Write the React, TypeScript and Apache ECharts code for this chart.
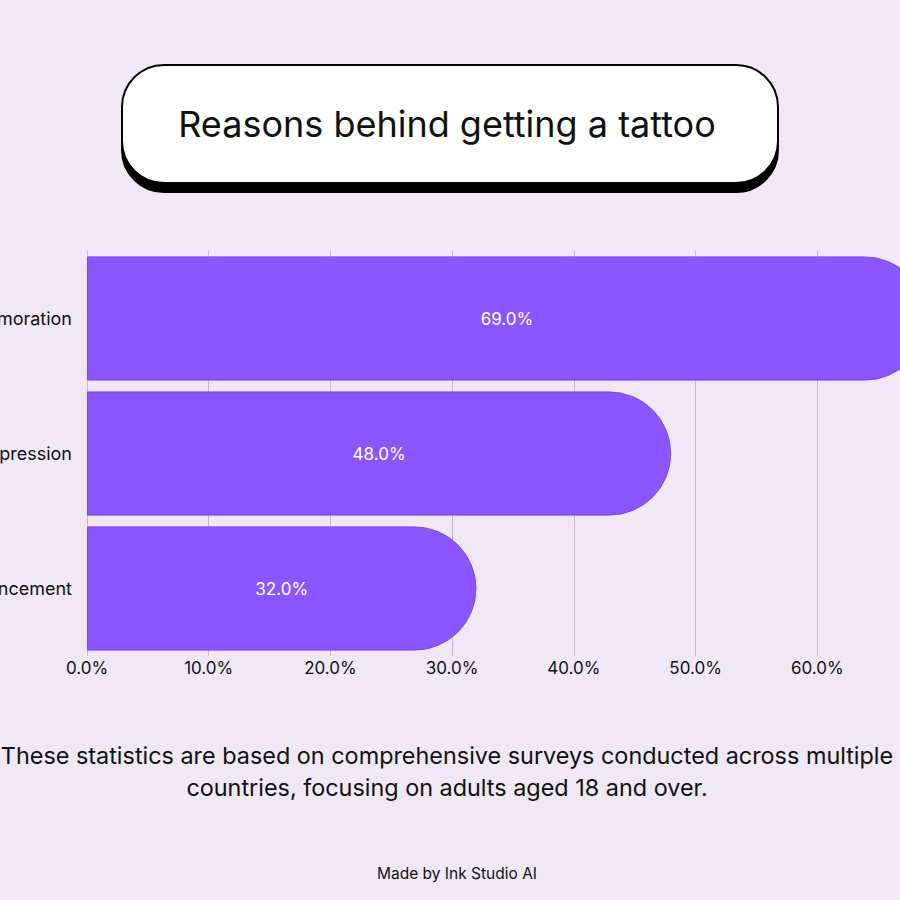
import React, { useEffect, useRef } from "react";
import * as echarts from "echarts";

const categories = ["Commemoration", "Self-expression", "Aesthetic enhancement"];
const values = [69, 48, 32];
const xTicks = [0, 10, 20, 30, 40, 50, 60, 70];

const titleText = "Reasons behind getting a tattoo";
const noteLines = [
  "These statistics are based on comprehensive surveys conducted across multiple",
  "countries, focusing on adults aged 18 and over.",
];
const creditText = "Made by Ink Studio AI";

export default function App() {
  const ref = useRef<HTMLDivElement>(null);
  useEffect(() => {
    document.body.style.margin = "0";
    const chart = echarts.init(ref.current!, null, { renderer: "svg" });
    const font = "Inter, 'Noto Sans', sans-serif";
    chart.setOption({
      animation: false,
      backgroundColor: "#f0e8f5",
      textStyle: { fontFamily: font },
      grid: {
        left: 87,
        right: -39,
        top: 251,
        bottom: 244,
        containLabel: false,
        outerBoundsMode: "none",
      },
      xAxis: {
        type: "value",
        min: xTicks[0],
        max: xTicks[xTicks.length - 1],
        interval: 10,
        axisLine: { show: false },
        axisTick: { show: false },
        splitLine: { show: true, lineStyle: { color: "#c3bac9", width: 1 } },
        axisLabel: {
          color: "#111",
          fontSize: 17,
          margin: 3,
          fontFamily: font,
          formatter: (v: number) => v.toFixed(1) + "%",
        },
      },
      yAxis: {
        type: "category",
        data: categories,
        inverse: true,
        axisLine: { show: false },
        axisTick: { show: false },
        axisLabel: { color: "#111", fontSize: 18, margin: 15, fontFamily: font },
      },
      series: [
        {
          type: "bar",
          data: values,
          barCategoryGap: "8%",
          itemStyle: {
            color: "#8b55ff",
            borderColor: "#7b48e8",
            borderWidth: 1,
            borderRadius: [0, 62, 62, 0],
          },
          label: {
            show: true,
            position: "inside",
            color: "#fff",
            fontSize: 17,
            fontFamily: font,
            formatter: (p: any) => Number(p.value).toFixed(1) + "%",
          },
        },
      ],
      graphic: [
        {
          type: "rect",
          shape: { x: 122, y: 74, width: 656, height: 118, r: 42 },
          style: { fill: "#000", stroke: "#000", lineWidth: 2 },
          z: 10,
        },
        {
          type: "rect",
          shape: { x: 122, y: 65, width: 656, height: 118, r: 42 },
          style: { fill: "#fff", stroke: "#000", lineWidth: 2 },
          z: 11,
        },
        {
          type: "text",
          x: 447,
          y: 124,
          z: 12,
          style: {
            text: titleText,
            fill: "#111",
            font: `36px ${font}`,
            align: "center",
            verticalAlign: "middle",
          },
        },
        {
          type: "text",
          x: 447,
          y: 755,
          style: {
            text: noteLines[0],
            fill: "#111",
            font: `23.4px ${font}`,
            align: "center",
            verticalAlign: "middle",
          },
        },
        {
          type: "text",
          x: 447,
          y: 787,
          style: {
            text: noteLines[1],
            fill: "#111",
            font: `23.4px ${font}`,
            align: "center",
            verticalAlign: "middle",
          },
        },
        {
          type: "text",
          x: 457,
          y: 873,
          style: {
            text: creditText,
            fill: "#111",
            font: `15.5px ${font}`,
            align: "center",
            verticalAlign: "middle",
          },
        },
      ],
    });
    return () => chart.dispose();
  }, []);
  return <div ref={ref} style={{ width: 900, height: 900 }} />;
}
